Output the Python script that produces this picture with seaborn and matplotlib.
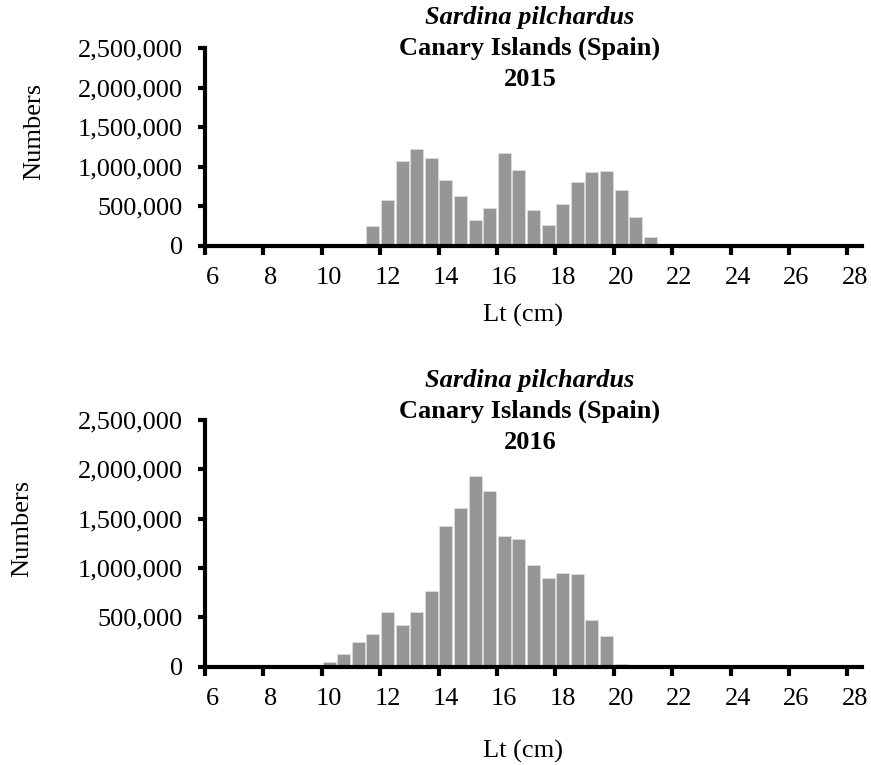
import matplotlib
matplotlib.use("Agg")
import matplotlib.pyplot as plt
import matplotlib.ticker as mticker
import seaborn as sns
import pandas as pd

# ---- data ----
lengths_2015 = [11.75, 12.25, 12.75, 13.25, 13.75, 14.25, 14.75, 15.25, 15.75, 16.25,
                16.75, 17.25, 17.75, 18.25, 18.75, 19.25, 19.75, 20.25, 20.75, 21.25, 21.75]
numbers_2015 = [251000, 576000, 1070000, 1225000, 1108000, 829000, 627000, 323000, 479000, 1171000,
                960000, 454000, 264000, 525000, 800000, 926000, 939000, 703000, 357000, 112000, 6000]

lengths_2016 = [10.25, 10.75, 11.25, 11.75, 12.25, 12.75, 13.25, 13.75, 14.25, 14.75,
                15.25, 15.75, 16.25, 16.75, 17.25, 17.75, 18.25, 18.75, 19.25, 19.75, 20.25]
numbers_2016 = [43000, 124000, 253000, 325000, 556000, 417000, 556000, 767000, 1430000, 1607000,
                1934000, 1777000, 1321000, 1294000, 1026000, 900000, 947000, 934000, 468000, 311000, 25000]

species = "Sardina pilchardus"
region = "Canary Islands (Spain)"
years = ["2015", "2016"]
xticks = list(range(6, 29, 2))
yticks = [0, 500000, 1000000, 1500000, 2000000, 2500000]
xlabel = "Lt (cm)"
ylabel = "Numbers"

sns.set_style("ticks")
plt.rcParams["font.family"] = ["Liberation Serif", "DejaVu Serif"]
plt.rcParams["text.color"] = "black"
plt.rcParams["xtick.color"] = "black"
plt.rcParams["ytick.color"] = "black"
plt.rcParams["axes.labelcolor"] = "black"

W, H = 871, 765
fig = plt.figure(figsize=(W / 100, H / 100), dpi=100)

def fx(px):
    return px / W

def fy(py):
    return 1 - py / H

panels = [
    dict(df=pd.DataFrame({"Lt": lengths_2015, "N": numbers_2015}), year=years[0],
         top=48, zero=245.5, title_base=[24, 55, 86], xlab_base=322, ylab=(34, 131)),
    dict(df=pd.DataFrame({"Lt": lengths_2016, "N": numbers_2016}), year=years[1],
         top=420, zero=666.5, title_base=[387, 418, 449], xlab_base=758, ylab=(22, 528)),
]

left_px, right_px = 205, 862
fs = 19
for p in panels:
    ax = fig.add_axes([fx(left_px), fy(p["zero"]), fx(right_px - left_px),
                       (p["zero"] - p["top"]) / H])
    sns.barplot(data=p["df"], x="Lt", y="N", native_scale=True, color="#969696",
                saturation=1, width=0.88, errorbar=None, edgecolor="#dcdcdc",
                linewidth=0.6, ax=ax)
    ax.set_xlim(6, 28.5)
    ax.set_ylim(0, 2500000)
    # tick marks on class boundaries, labels centred on the first class of each pair
    ax.set_xticks(xticks)
    ax.set_xticklabels([])
    ax.set_xticks([t + 0.25 for t in xticks], minor=True)
    ax.set_xticklabels([str(t) for t in xticks], minor=True)
    ax.set_yticks(yticks)
    ax.yaxis.set_major_formatter(mticker.FuncFormatter(lambda v, pos: f"{int(round(v)):,}"))
    for s in ["top", "right"]:
        ax.spines[s].set_visible(False)
    for s in ["left", "bottom"]:
        ax.spines[s].set_linewidth(3)
        ax.spines[s].set_color("black")
    ax.tick_params(axis="x", which="major", direction="out", length=6.5, width=3)
    ax.tick_params(axis="x", which="minor", length=0, pad=15.5, labelsize=fs,
                   labelcolor="black")
    ax.tick_params(axis="y", direction="out", length=5, width=3, pad=11, labelsize=fs,
                   labelcolor="black")
    ax.set_xlabel("")
    ax.set_ylabel("")
    ax.set_facecolor("white")

    cx = fx(530)
    tb = p["title_base"]
    fig.text(cx, fy(tb[0]), species, ha="center", va="baseline", fontsize=fs,
             fontweight="bold", fontstyle="italic", color="black")
    fig.text(cx, fy(tb[1]), region, ha="center", va="baseline", fontsize=fs,
             fontweight="bold", color="black")
    fig.text(cx, fy(tb[2]), p["year"], ha="center", va="baseline", fontsize=fs,
             fontweight="bold", color="black")
    fig.text(fx(523), fy(p["xlab_base"]), xlabel, ha="center", va="baseline",
             fontsize=fs, color="black")
    fig.text(fx(p["ylab"][0]), fy(p["ylab"][1]), ylabel, ha="center", va="center",
             rotation=90, fontsize=fs, color="black")

fig.savefig("out.png", dpi=100, facecolor="white")
